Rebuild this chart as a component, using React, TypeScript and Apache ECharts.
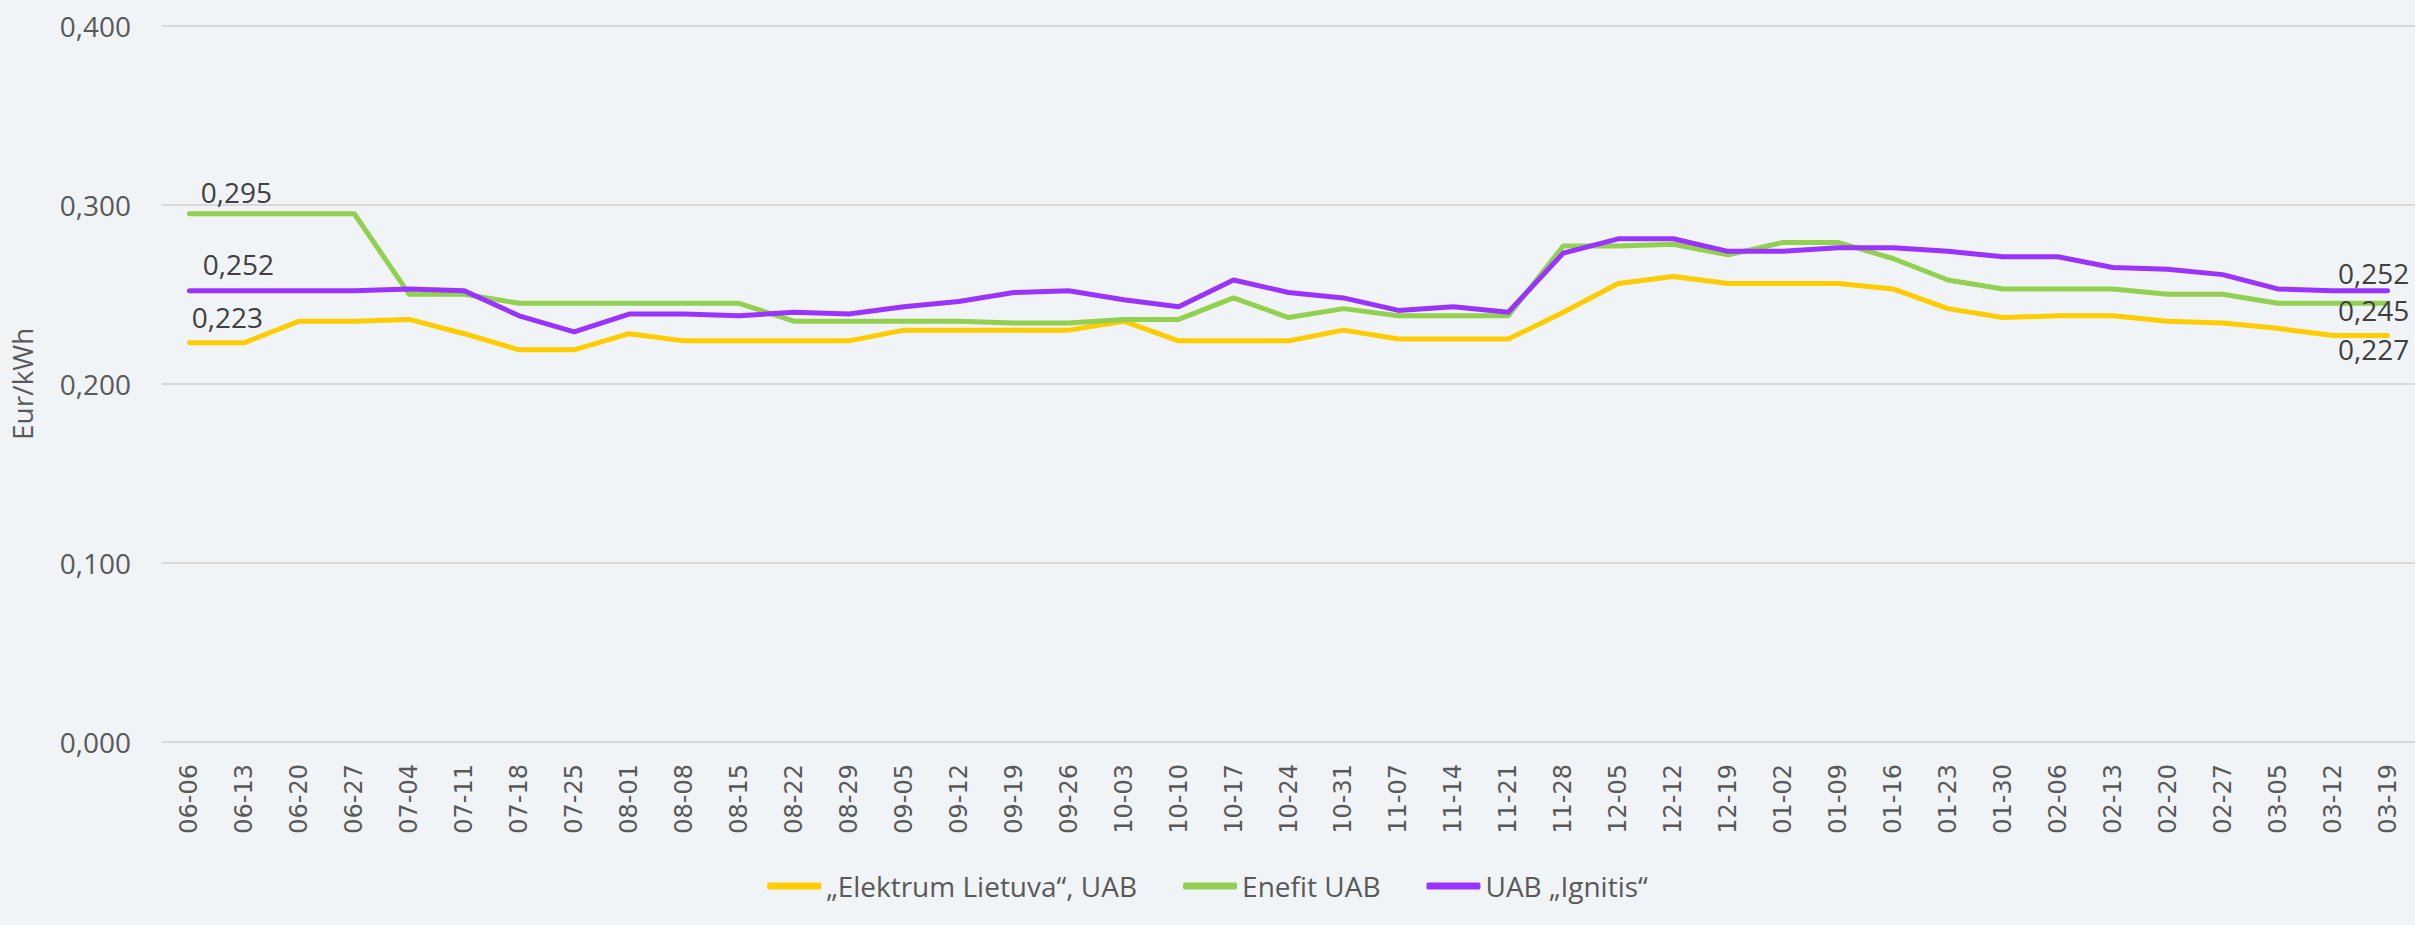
import React, { useEffect, useRef } from "react";
import * as echarts from "echarts";

const categories = [
  "06-06", "06-13", "06-20", "06-27", "07-04", "07-11", "07-18", "07-25", "08-01", "08-08",
  "08-15", "08-22", "08-29", "09-05", "09-12", "09-19", "09-26", "10-03", "10-10", "10-17",
  "10-24", "10-31", "11-07", "11-14", "11-21", "11-28", "12-05", "12-12", "12-19", "01-02",
  "01-09", "01-16", "01-23", "01-30", "02-06", "02-13", "02-20", "02-27", "03-05", "03-12",
  "03-19",
];

const elektrum = [
  0.223, 0.223, 0.235, 0.235, 0.236, 0.228, 0.219, 0.219, 0.228, 0.224,
  0.224, 0.224, 0.224, 0.230, 0.230, 0.230, 0.230, 0.235, 0.224, 0.224,
  0.224, 0.230, 0.225, 0.225, 0.225, 0.240, 0.256, 0.260, 0.256, 0.256,
  0.256, 0.253, 0.242, 0.237, 0.238, 0.238, 0.235, 0.234, 0.231, 0.227,
  0.227,
];

const enefit = [
  0.295, 0.295, 0.295, 0.295, 0.250, 0.250, 0.245, 0.245, 0.245, 0.245,
  0.245, 0.235, 0.235, 0.235, 0.235, 0.234, 0.234, 0.236, 0.236, 0.248,
  0.237, 0.242, 0.238, 0.238, 0.238, 0.277, 0.277, 0.278, 0.272, 0.279,
  0.279, 0.270, 0.258, 0.253, 0.253, 0.253, 0.250, 0.250, 0.245, 0.245,
  0.245,
];

const ignitis = [
  0.252, 0.252, 0.252, 0.252, 0.253, 0.252, 0.238, 0.229, 0.239, 0.239,
  0.238, 0.240, 0.239, 0.243, 0.246, 0.251, 0.252, 0.247, 0.243, 0.258,
  0.251, 0.248, 0.241, 0.243, 0.240, 0.273, 0.281, 0.281, 0.274, 0.274,
  0.276, 0.276, 0.274, 0.271, 0.271, 0.265, 0.264, 0.261, 0.253, 0.252,
  0.252,
];

const seriesNames = ["„Elektrum Lietuva“, UAB", "Enefit UAB", "UAB „Ignitis“"];
const yTicks = [0, 0.1, 0.2, 0.3, 0.4];

const fmt = (v: number) => v.toFixed(3).replace(".", ",");

function withLabels(values: number[], firstOffset: number[], lastOffset: number[]) {
  return values.map((v, i) => {
    if (i === 0 || i === values.length - 1) {
      return {
        value: v,
        label: {
          show: true,
          position: "top",
          distance: 5,
          offset: i === 0 ? firstOffset : lastOffset,
          formatter: (p: any) => fmt(p.value),
          fontFamily: "Open Sans",
          fontSize: 28,
          lineHeight: 28,
          color: "#404040",
        },
      };
    }
    return v;
  });
}

export default function App() {
  const ref = useRef<HTMLDivElement>(null);
  useEffect(() => {
    document.body.style.margin = "0";
    document.body.style.background = "#F0F4F7";
    const chart = echarts.init(ref.current!, null, { renderer: "svg" });
    const lineCommon = {
      type: "line",
      showSymbol: true,
      symbol: "circle",
      symbolSize: 0.1,
      smooth: false,
      z: 2,
    };
    chart.setOption({
      animation: false,
      backgroundColor: "#F0F4F7",
      grid: { left: 157, right: 0, top: 25.7, bottom: 183, containLabel: false },
      legend: {
        bottom: 20,
        left: "center",
        itemWidth: 54,
        itemHeight: 7,
        itemGap: 46,
        icon: "roundRect",
        textStyle: { fontFamily: "Open Sans", fontSize: 28, color: "#595959" },
        data: seriesNames,
      },
      xAxis: {
        type: "category",
        data: categories,
        boundaryGap: true,
        axisLine: { show: false },
        axisTick: { show: false },
        axisLabel: {
          interval: 0,
          rotate: 90,
          margin: 22,
          fontFamily: "DejaVu Sans",
          fontSize: 24,
          color: "#595959",
        },
      },
      yAxis: {
        type: "value",
        min: yTicks[0],
        max: yTicks[yTicks.length - 1],
        interval: 0.1,
        name: "Eur/kWh",
        nameLocation: "middle",
        nameGap: 126,
        nameRotate: 90,
        nameTextStyle: { fontFamily: "Open Sans", fontSize: 28, color: "#595959" },
        axisLine: { show: false },
        axisTick: { show: false },
        axisLabel: {
          margin: 31,
          fontFamily: "Open Sans",
          fontSize: 28,
          color: "#595959",
          formatter: (v: number) => fmt(v),
        },
        splitLine: { lineStyle: { color: "#D9D9D9", width: 2 } },
      },
      series: [
        {
          ...lineCommon,
          name: seriesNames[0],
          data: withLabels(elektrum, [38, -6.5], [-14, 32.5]),
          itemStyle: { color: "#FFCC00" },
          lineStyle: { color: "#FFCC00", width: 5, cap: "round", join: "round" },
        },
        {
          ...lineCommon,
          name: seriesNames[1],
          data: withLabels(enefit, [47, -2.5], [-14, 25.5]),
          itemStyle: { color: "#92D050" },
          lineStyle: { color: "#92D050", width: 5, cap: "round", join: "round" },
        },
        {
          ...lineCommon,
          name: seriesNames[2],
          data: withLabels(ignitis, [49, -7.5], [-14, 1.5]),
          itemStyle: { color: "#9B33FF" },
          lineStyle: { color: "#9B33FF", width: 5, cap: "round", join: "round" },
        },
      ],
    });
    return () => chart.dispose();
  }, []);
  return <div ref={ref} style={{ width: 2415, height: 925 }} />;
}
